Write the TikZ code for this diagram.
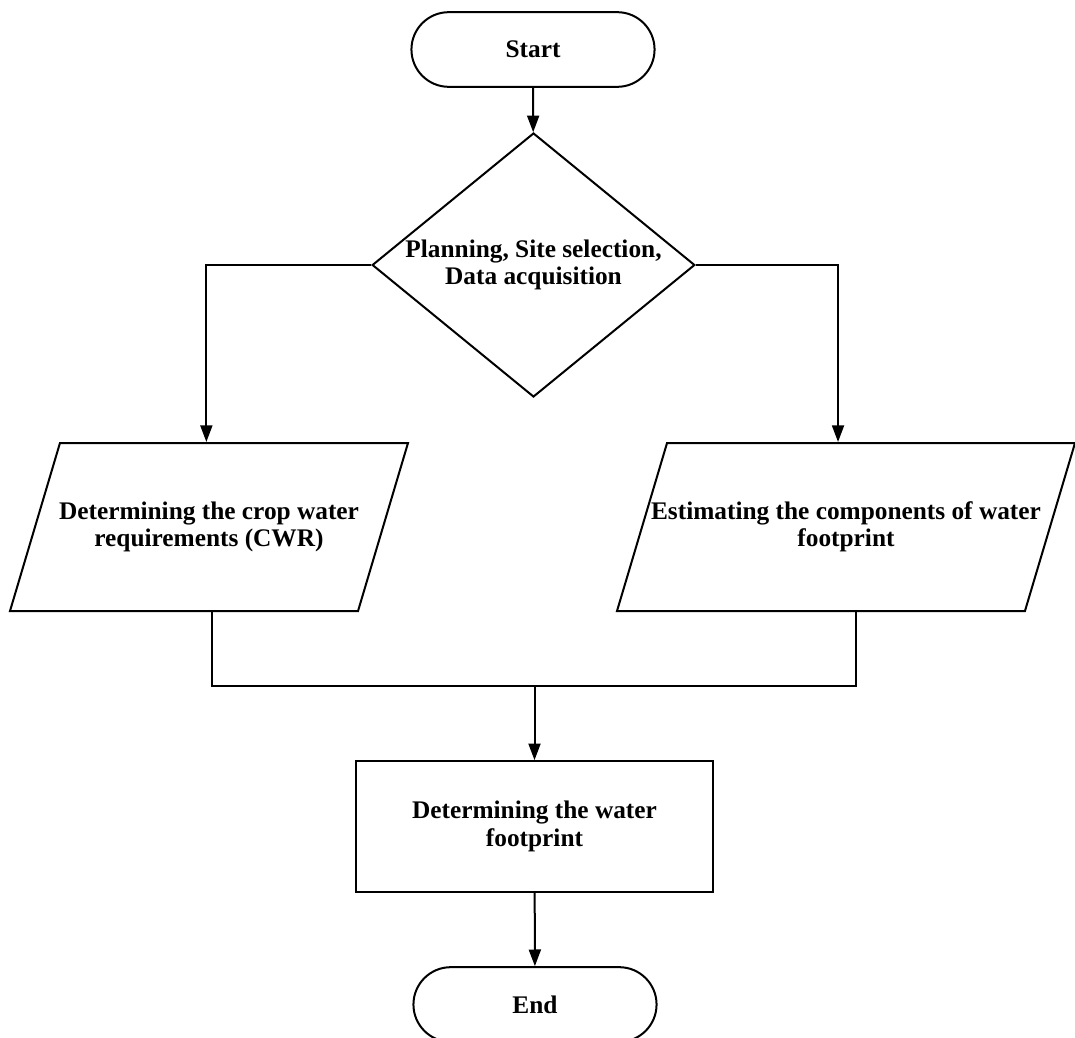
\documentclass[tikz,border=0pt]{standalone}
\usepackage{fontspec}
\setmainfont{Liberation Serif}
\usetikzlibrary{shapes.geometric,shapes.misc,arrows.meta}

\tikzset{
  terminal/.style={draw, rounded rectangle, minimum width=189pt, minimum height=56pt},
  decision/.style={draw, diamond, aspect=1.22, inner sep=0pt, minimum width=242pt, minimum height=198pt, align=center},
  io/.style={draw, trapezium, trapezium left angle=73.4, trapezium right angle=106.6, trapezium stretches body=true, inner ysep=44pt, minimum height=126pt, align=center},
  process/.style={draw, rectangle, minimum width=268pt, minimum height=98pt, align=center},
}

\begin{document}
\begin{tikzpicture}[x=0.75pt, y=-0.75pt, line width=1.5pt, >={Triangle[length=12.5pt,width=9pt]},
    every node/.style={font=\fontsize{19pt}{20.5pt}\selectfont\bfseries}]
    \useasboundingbox (0,0) rectangle (1075,1038);

    \node[terminal] (start) at (533,49.5) {Start};
    \node[decision] (plan) at (533.5,265) {Planning, Site selection,\\Data acquisition};
    \node[io, inner xsep=-2pt, minimum width=298.5pt] (crop) at (209,527) {Determining the crop water\\requirements (CWR)};
    \node[io, inner xsep=-14pt, minimum width=343.5pt] (comp) at (846,527) {Estimating the components of water\\footprint};
    \node[process] (wf) at (534.5,826.5) {Determining the water\\footprint};
    \node[terminal] (end) at (535,1004.5) {End};
    \coordinate (join) at (534.5,686);

    \draw[->] (start) -- (plan);
    \draw[->] (plan.west) -| ([xshift=-2pt]crop.north);
    \draw[->] (plan.east) -| ([xshift=-6pt]comp.north);
    \draw ([xshift=2pt]crop.south) |- (join) -| ([xshift=7.5pt]comp.south);
    \draw[->] (join) -- (wf);
    \draw[->] (wf) -- (end);
\end{tikzpicture}
\end{document}
